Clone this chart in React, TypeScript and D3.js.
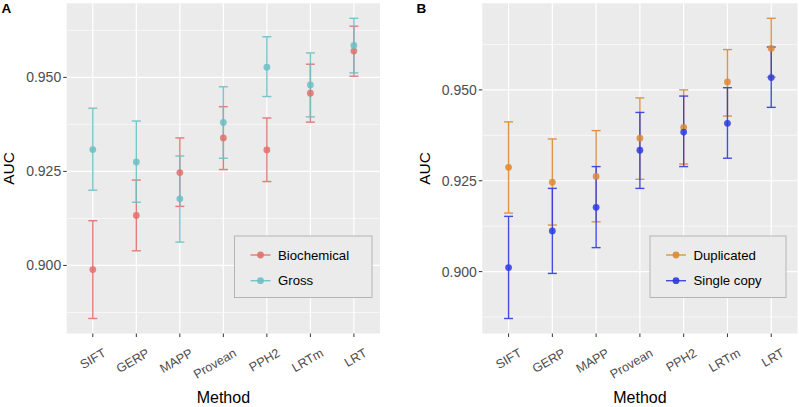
import React from "react";
import * as d3 from "d3";

const methods = ["SIFT", "GERP", "MAPP", "Provean", "PPH2", "LRTm", "LRT"];

const biochemicalAUC = [0.8989, 0.9133, 0.9247, 0.9339, 0.9307, 0.9458, 0.957];
const biochemicalLow = [0.8859, 0.9039, 0.9157, 0.9255, 0.9223, 0.9381, 0.9503];
const biochemicalHigh = [0.9119, 0.9227, 0.9339, 0.9422, 0.9392, 0.9535, 0.9636];

const grossAUC = [0.9308, 0.9275, 0.9177, 0.938, 0.9527, 0.948, 0.9585];
const grossLow = [0.92, 0.9168, 0.9062, 0.9285, 0.9449, 0.9395, 0.9512];
const grossHigh = [0.9418, 0.9384, 0.9291, 0.9475, 0.9608, 0.9565, 0.9657];

const duplicatedAUC = [0.9287, 0.9246, 0.9262, 0.9367, 0.9397, 0.9522, 0.9614];
const duplicatedLow = [0.9161, 0.9128, 0.9137, 0.9254, 0.9296, 0.9428, 0.9535];
const duplicatedHigh = [0.9412, 0.9365, 0.9388, 0.9478, 0.95, 0.9611, 0.9697];

const singleAUC = [0.9011, 0.9112, 0.9177, 0.9334, 0.9384, 0.9408, 0.9534];
const singleLow = [0.8871, 0.8995, 0.9066, 0.9229, 0.9289, 0.9312, 0.9452];
const singleHigh = [0.9152, 0.9229, 0.9289, 0.9438, 0.9483, 0.9506, 0.9618];

const majorTicks = [0.9, 0.925, 0.95];
const minorTicks = [0.8875, 0.9125, 0.9375, 0.9625];

type Series = { name: string; color: string; auc: number[]; low: number[]; high: number[] };

const panelA: Series[] = [
  { name: "Biochemical", color: "#E0716B", auc: biochemicalAUC, low: biochemicalLow, high: biochemicalHigh },
  { name: "Gross", color: "#6CC0C5", auc: grossAUC, low: grossLow, high: grossHigh },
];
const panelB: Series[] = [
  { name: "Duplicated", color: "#DA8B34", auc: duplicatedAUC, low: duplicatedLow, high: duplicatedHigh },
  { name: "Single copy", color: "#2E3BE0", auc: singleAUC, low: singleLow, high: singleHigh },
];

const FONT = "'Liberation Sans', Arial, Helvetica, sans-serif";

function Panel(props: {
  letter: string;
  letterX: number;
  left: number;
  right: number;
  series: Series[];
  legendX: number;
  legendW: number;
}) {
  const { letter, letterX, left, right, series, legendX, legendW } = props;
  const top = 3.3;
  const bottom = 333.5;
  const x = d3.scalePoint<string>().domain(methods).range([left, right]).padding(0.6);
  const all = series.flatMap((s) => [...s.low, ...s.high]);
  const mn = d3.min(all)!;
  const mx = d3.max(all)!;
  const pad = (mx - mn) * 0.05;
  const y = d3.scaleLinear().domain([mn - pad, mx + pad]).range([bottom, top]);
  const capHalf = 4.5;
  const legendTop = 236;
  const legendH = 61.5;

  return (
    <g>
      <text x={letterX} y={13.3} fontFamily={FONT} fontWeight="bold" fontSize={13.5} fill="#000">
        {letter}
      </text>
      <rect x={left} y={top} width={right - left} height={bottom - top} fill="#EBEBEB" />
      {minorTicks.map((t) => (
        <line key={"mi" + t} x1={left} x2={right} y1={y(t)} y2={y(t)} stroke="#fff" strokeWidth={0.6} />
      ))}
      {majorTicks.map((t) => (
        <line key={"ma" + t} x1={left} x2={right} y1={y(t)} y2={y(t)} stroke="#fff" strokeWidth={1.2} />
      ))}
      {methods.map((m) => (
        <line key={"vx" + m} x1={x(m)} x2={x(m)} y1={top} y2={bottom} stroke="#fff" strokeWidth={1.2} />
      ))}
      {series.map((s) => (
        <g key={"eb" + s.name} stroke={s.color} strokeWidth={1.4} opacity={0.9}>
          {methods.map((m, i) => {
            const cx = x(m)!;
            return (
              <g key={m}>
                <line x1={cx} x2={cx} y1={y(s.low[i])} y2={y(s.high[i])} />
                <line x1={cx - capHalf} x2={cx + capHalf} y1={y(s.low[i])} y2={y(s.low[i])} />
                <line x1={cx - capHalf} x2={cx + capHalf} y1={y(s.high[i])} y2={y(s.high[i])} />
              </g>
            );
          })}
        </g>
      ))}
      {series.map((s) => (
        <g key={"pt" + s.name} fill={s.color} opacity={0.85}>
          {methods.map((m, i) => (
            <circle key={m} cx={x(m)!} cy={y(s.auc[i])} r={3.4} />
          ))}
        </g>
      ))}
      {majorTicks.map((t) => (
        <g key={"yt" + t}>
          <line x1={left - 3.5} x2={left} y1={y(t)} y2={y(t)} stroke="#333" strokeWidth={1} />
          <text
            x={left - 5.5}
            y={y(t)}
            dy="0.35em"
            textAnchor="end"
            fontFamily={FONT}
            fontSize={14}
            fill="#4D4D4D"
          >
            {d3.format(".3f")(t)}
          </text>
        </g>
      ))}
      <text
        transform={`translate(${left - 58},${(top + bottom) / 2}) rotate(-90)`}
        textAnchor="middle"
        dy="0.35em"
        fontFamily={FONT}
        fontSize={15.5}
        fill="#000"
      >
        AUC
      </text>
      {methods.map((m) => {
        const cx = x(m)!;
        return (
          <g key={"xt" + m}>
            <line x1={cx} x2={cx} y1={bottom} y2={bottom + 3.5} stroke="#333" strokeWidth={1} />
            <text
              transform={`translate(${cx + 14},${bottom + 22}) rotate(-30)`}
              textAnchor="end"
              fontFamily={FONT}
              fontSize={12.6}
              fill="#4D4D4D"
            >
              {m}
            </text>
          </g>
        );
      })}
      <text
        x={(left + right) / 2}
        y={403}
        textAnchor="middle"
        fontFamily={FONT}
        fontSize={16}
        fill="#000"
      >
        Method
      </text>
      <rect x={legendX} y={legendTop} width={legendW} height={legendH} fill="#EBEBEB" stroke="#B5B5B5" strokeWidth={1} />
      {series.map((s, i) => {
        const ly = legendTop + 19 + i * 25.7;
        return (
          <g key={"lg" + s.name}>
            <line x1={legendX + 16} x2={legendX + 36} y1={ly} y2={ly} stroke={s.color} strokeWidth={1.4} opacity={0.9} />
            <circle cx={legendX + 26} cy={ly} r={3.4} fill={s.color} opacity={0.9} />
            <text x={legendX + 43.5} y={ly} dy="0.35em" fontFamily={FONT} fontSize={13.2} fill="#000">
              {s.name}
            </text>
          </g>
        );
      })}
    </g>
  );
}

export default function App() {
  return (
    <svg
      width={799}
      height={407}
      style={{ position: "absolute", left: 0, top: 0, background: "#fff" }}
    >
      <rect x={0} y={0} width={799} height={407} fill="#fff" />
      <Panel letter="A" letterX={1.5} left={66.7} right={380} series={panelA} legendX={234.5} legendW={137.5} />
      <Panel letter="B" letterX={416.5} left={482.3} right={797.5} series={panelB} legendX={650} legendW={136} />
    </svg>
  );
}
